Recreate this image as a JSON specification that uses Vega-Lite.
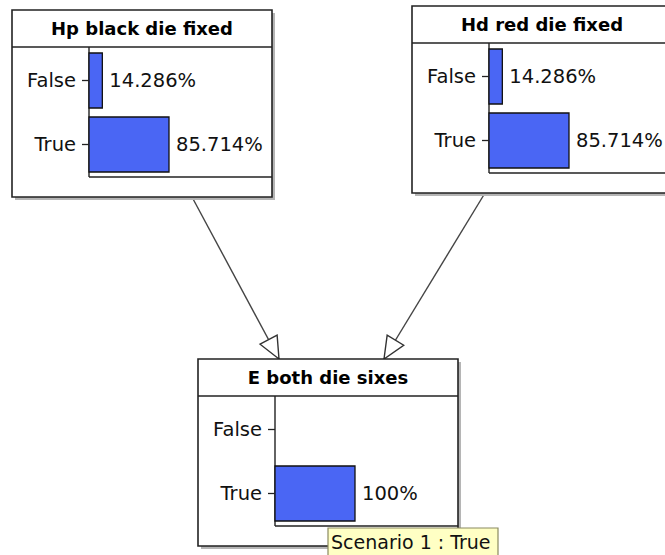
{
  "$schema": "https://vega.github.io/schema/vega-lite/v6.json",
  "width": 665,
  "height": 555,
  "padding": 0,
  "autosize": {"type": "none"},
  "background": "white",
  "config": {"view": {"stroke": null}, "text": {"font": "DejaVu Sans"}},
  "datasets": {
    "nodes": [
      {"id": "Hp", "title": "Hp black die fixed", "left": 12, "top": 10},
      {"id": "Hd", "title": "Hd red die fixed", "left": 412, "top": 6},
      {"id": "E", "title": "E both die sixes", "left": 198, "top": 359}
    ],
    "states": [
      {"node": "Hp", "state": "False", "p": 0.14286},
      {"node": "Hp", "state": "True", "p": 0.85714},
      {"node": "Hd", "state": "False", "p": 0.14286},
      {"node": "Hd", "state": "True", "p": 0.85714},
      {"node": "E", "state": "False", "p": 0},
      {"node": "E", "state": "True", "p": 1}
    ],
    "edges": [
      {"from": "Hp", "to": "E", "x1": 192, "y1": 197, "x2": 279, "y2": 359},
      {"from": "Hd", "to": "E", "x1": 485, "y1": 193, "x2": 384, "y2": 359}
    ],
    "scenario": [
      {"label": "Scenario 1 : True", "left": 328, "top": 528}
    ]
  },
  "layer": [
    {
      "data": {"name": "edges"},
      "mark": {"type": "rule", "stroke": "#444444", "strokeWidth": 1.4},
      "encoding": {
        "x": {"field": "x1", "type": "quantitative", "scale": {"domain": [0, 665], "nice": false, "zero": false}, "axis": null},
        "x2": {"field": "x2"},
        "y": {"field": "y1", "type": "quantitative", "scale": {"domain": [0, 555], "nice": false, "zero": false, "reverse": true}, "axis": null},
        "y2": {"field": "y2"}
      }
    },
    {
      "data": {"name": "edges"},
      "transform": [
        {"calculate": "atan2(-(datum.x2 - datum.x1), datum.y2 - datum.y1) * 180 / PI", "as": "ang"}
      ],
      "mark": {"type": "point", "shape": "M0,0L-0.44,-1L0.44,-1Z", "filled": true, "fill": "white", "stroke": "#333333", "strokeWidth": 1.4, "opacity": 1, "size": 1936},
      "encoding": {
        "x": {"field": "x2", "type": "quantitative", "scale": {"domain": [0, 665], "nice": false, "zero": false}, "axis": null},
        "y": {"field": "y2", "type": "quantitative", "scale": {"domain": [0, 555], "nice": false, "zero": false, "reverse": true}, "axis": null},
        "angle": {"field": "ang", "type": "quantitative", "scale": null}
      }
    },
    {
      "data": {"name": "nodes"},
      "transform": [
        {"calculate": "datum.left + 3", "as": "sx"},
        {"calculate": "datum.left + 263", "as": "sx2"},
        {"calculate": "datum.top + 3", "as": "sy"},
        {"calculate": "datum.top + 190", "as": "sy2"}
      ],
      "mark": {"type": "rect", "fill": "#b5b5b5"},
      "encoding": {
        "x": {"field": "sx", "type": "quantitative", "scale": {"domain": [0, 665], "nice": false, "zero": false}, "axis": null},
        "x2": {"field": "sx2"},
        "y": {"field": "sy", "type": "quantitative", "scale": {"domain": [0, 555], "nice": false, "zero": false, "reverse": true}, "axis": null},
        "y2": {"field": "sy2"}
      }
    },
    {
      "data": {"name": "nodes"},
      "transform": [
        {"calculate": "datum.left + 260", "as": "rx2"},
        {"calculate": "datum.top + 187", "as": "ry2"}
      ],
      "mark": {"type": "rect", "fill": "white", "stroke": "#222222", "strokeWidth": 1.6},
      "encoding": {
        "x": {"field": "left", "type": "quantitative", "scale": {"domain": [0, 665], "nice": false, "zero": false}, "axis": null},
        "x2": {"field": "rx2"},
        "y": {"field": "top", "type": "quantitative", "scale": {"domain": [0, 555], "nice": false, "zero": false, "reverse": true}, "axis": null},
        "y2": {"field": "ry2"}
      }
    },
    {
      "data": {"name": "nodes"},
      "transform": [
        {"calculate": "datum.left + 260", "as": "rx2"},
        {"calculate": "datum.top + 37", "as": "sep"}
      ],
      "mark": {"type": "rule", "stroke": "#222222", "strokeWidth": 1.6},
      "encoding": {
        "x": {"field": "left", "type": "quantitative", "scale": {"domain": [0, 665], "nice": false, "zero": false}, "axis": null},
        "x2": {"field": "rx2"},
        "y": {"field": "sep", "type": "quantitative", "scale": {"domain": [0, 555], "nice": false, "zero": false, "reverse": true}, "axis": null}
      }
    },
    {
      "data": {"name": "nodes"},
      "transform": [
        {"calculate": "datum.left + 77", "as": "ax"},
        {"calculate": "datum.top + 37", "as": "ay"},
        {"calculate": "datum.top + 167", "as": "ay2"}
      ],
      "mark": {"type": "rule", "stroke": "#222222", "strokeWidth": 1.4},
      "encoding": {
        "x": {"field": "ax", "type": "quantitative", "scale": {"domain": [0, 665], "nice": false, "zero": false}, "axis": null},
        "y": {"field": "ay", "type": "quantitative", "scale": {"domain": [0, 555], "nice": false, "zero": false, "reverse": true}, "axis": null},
        "y2": {"field": "ay2"}
      }
    },
    {
      "data": {"name": "nodes"},
      "transform": [
        {"calculate": "datum.left + 77", "as": "ax"},
        {"calculate": "datum.left + 260", "as": "ax2"},
        {"calculate": "datum.top + 167", "as": "ay"}
      ],
      "mark": {"type": "rule", "stroke": "#222222", "strokeWidth": 1.4},
      "encoding": {
        "x": {"field": "ax", "type": "quantitative", "scale": {"domain": [0, 665], "nice": false, "zero": false}, "axis": null},
        "x2": {"field": "ax2"},
        "y": {"field": "ay", "type": "quantitative", "scale": {"domain": [0, 555], "nice": false, "zero": false, "reverse": true}, "axis": null}
      }
    },
    {
      "data": {"name": "nodes"},
      "transform": [
        {"calculate": "datum.left + 130", "as": "tx"},
        {"calculate": "datum.top + 19.5", "as": "ty"}
      ],
      "mark": {"type": "text", "font": "DejaVu Sans", "fontWeight": "bold", "fontSize": 18, "align": "center", "baseline": "middle", "color": "#000000"},
      "encoding": {
        "x": {"field": "tx", "type": "quantitative", "scale": {"domain": [0, 665], "nice": false, "zero": false}, "axis": null},
        "y": {"field": "ty", "type": "quantitative", "scale": {"domain": [0, 555], "nice": false, "zero": false, "reverse": true}, "axis": null},
        "text": {"field": "title"}
      }
    },
    {
      "data": {"name": "states"},
      "transform": [
        {"lookup": "node", "from": {"data": {"name": "nodes"}, "key": "id", "fields": ["left", "top"]}},
        {"joinaggregate": [{"op": "max", "field": "p", "as": "maxp"}], "groupby": ["node"]},
        {"filter": "datum.p > 0"},
        {"calculate": "datum.left + 77", "as": "bx"},
        {"calculate": "datum.left + 77 + datum.p / datum.maxp * 80", "as": "bx2"},
        {"calculate": "datum.top + (datum.state == 'False' ? 43 : 107)", "as": "by"},
        {"calculate": "datum.by + 55", "as": "by2"}
      ],
      "mark": {"type": "rect", "fill": "#4a66f4", "stroke": "#111111", "strokeWidth": 1.3},
      "encoding": {
        "x": {"field": "bx", "type": "quantitative", "scale": {"domain": [0, 665], "nice": false, "zero": false}, "axis": null},
        "x2": {"field": "bx2"},
        "y": {"field": "by", "type": "quantitative", "scale": {"domain": [0, 555], "nice": false, "zero": false, "reverse": true}, "axis": null},
        "y2": {"field": "by2"}
      }
    },
    {
      "data": {"name": "states"},
      "transform": [
        {"lookup": "node", "from": {"data": {"name": "nodes"}, "key": "id", "fields": ["left", "top"]}},
        {"calculate": "datum.left + 70", "as": "kx"},
        {"calculate": "datum.left + 77", "as": "kx2"},
        {"calculate": "datum.top + (datum.state == 'False' ? 70.5 : 134.5)", "as": "cy"}
      ],
      "mark": {"type": "rule", "stroke": "#222222", "strokeWidth": 1.3},
      "encoding": {
        "x": {"field": "kx", "type": "quantitative", "scale": {"domain": [0, 665], "nice": false, "zero": false}, "axis": null},
        "x2": {"field": "kx2"},
        "y": {"field": "cy", "type": "quantitative", "scale": {"domain": [0, 555], "nice": false, "zero": false, "reverse": true}, "axis": null}
      }
    },
    {
      "data": {"name": "states"},
      "transform": [
        {"lookup": "node", "from": {"data": {"name": "nodes"}, "key": "id", "fields": ["left", "top"]}},
        {"calculate": "datum.left + 64", "as": "lx"},
        {"calculate": "datum.top + (datum.state == 'False' ? 70.5 : 134.5)", "as": "cy"}
      ],
      "mark": {"type": "text", "font": "DejaVu Sans", "fontSize": 19.5, "align": "right", "baseline": "middle", "color": "#111111"},
      "encoding": {
        "x": {"field": "lx", "type": "quantitative", "scale": {"domain": [0, 665], "nice": false, "zero": false}, "axis": null},
        "y": {"field": "cy", "type": "quantitative", "scale": {"domain": [0, 555], "nice": false, "zero": false, "reverse": true}, "axis": null},
        "text": {"field": "state"}
      }
    },
    {
      "data": {"name": "states"},
      "transform": [
        {"lookup": "node", "from": {"data": {"name": "nodes"}, "key": "id", "fields": ["left", "top"]}},
        {"joinaggregate": [{"op": "max", "field": "p", "as": "maxp"}], "groupby": ["node"]},
        {"filter": "datum.p > 0"},
        {"calculate": "datum.left + 77 + datum.p / datum.maxp * 80 + 7", "as": "px"},
        {"calculate": "datum.top + (datum.state == 'False' ? 70.5 : 134.5)", "as": "cy"}
      ],
      "mark": {"type": "text", "font": "DejaVu Sans", "fontSize": 19.5, "align": "left", "baseline": "middle", "color": "#111111"},
      "encoding": {
        "x": {"field": "px", "type": "quantitative", "scale": {"domain": [0, 665], "nice": false, "zero": false}, "axis": null},
        "y": {"field": "cy", "type": "quantitative", "scale": {"domain": [0, 555], "nice": false, "zero": false, "reverse": true}, "axis": null},
        "text": {"field": "p", "type": "quantitative", "format": ".3~%"}
      }
    },
    {
      "data": {"name": "scenario"},
      "transform": [
        {"calculate": "datum.left + 170", "as": "rx2"},
        {"calculate": "datum.top + 32", "as": "ry2"}
      ],
      "mark": {"type": "rect", "fill": "#ffffc4", "stroke": "#8a8a60", "strokeWidth": 1.2},
      "encoding": {
        "x": {"field": "left", "type": "quantitative", "scale": {"domain": [0, 665], "nice": false, "zero": false}, "axis": null},
        "x2": {"field": "rx2"},
        "y": {"field": "top", "type": "quantitative", "scale": {"domain": [0, 555], "nice": false, "zero": false, "reverse": true}, "axis": null},
        "y2": {"field": "ry2"}
      }
    },
    {
      "data": {"name": "scenario"},
      "transform": [
        {"calculate": "datum.left + 3", "as": "tx"},
        {"calculate": "datum.top + 15", "as": "ty"}
      ],
      "mark": {"type": "text", "font": "DejaVu Sans", "fontSize": 19, "align": "left", "baseline": "middle", "color": "#111111"},
      "encoding": {
        "x": {"field": "tx", "type": "quantitative", "scale": {"domain": [0, 665], "nice": false, "zero": false}, "axis": null},
        "y": {"field": "ty", "type": "quantitative", "scale": {"domain": [0, 555], "nice": false, "zero": false, "reverse": true}, "axis": null},
        "text": {"field": "label"}
      }
    }
  ]
}
